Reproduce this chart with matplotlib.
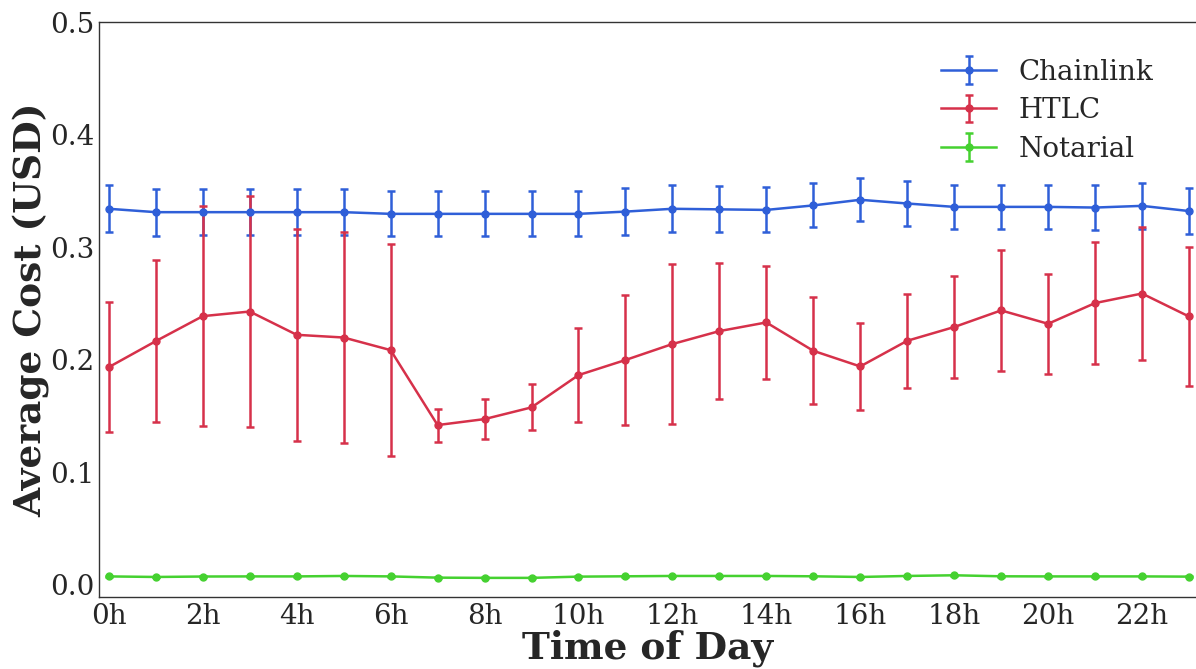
import numpy as np
import matplotlib
matplotlib.use("Agg")
from matplotlib import pyplot as plt

# hours of the day
hours = np.arange(24)
hour_labels = [f"{h}h" for h in range(0, 24, 2)]

# average cost (USD) and error (std) per hour
chainlink_mean = [0.334, 0.331, 0.331, 0.331, 0.331, 0.331, 0.3295, 0.3295,
                  0.3295, 0.3295, 0.3295, 0.3315, 0.334, 0.3335, 0.333, 0.337,
                  0.342, 0.3387, 0.3357, 0.3357, 0.3357, 0.3351, 0.3366, 0.332]
chainlink_err = [0.021, 0.021, 0.0205, 0.0205, 0.0205, 0.0205, 0.020, 0.020,
                 0.020, 0.020, 0.020, 0.0207, 0.021, 0.0205, 0.020, 0.0195,
                 0.019, 0.020, 0.0197, 0.0197, 0.0197, 0.020, 0.0205, 0.0207]

htlc_mean = [0.1933, 0.2164, 0.2386, 0.2427, 0.222, 0.2196, 0.2084, 0.1418,
             0.1471, 0.1575, 0.1862, 0.1996, 0.2138, 0.2253, 0.233, 0.2078,
             0.1939, 0.2167, 0.2289, 0.2437, 0.2318, 0.2502, 0.2587, 0.2383]
htlc_err = [0.0575, 0.072, 0.098, 0.103, 0.094, 0.094, 0.0945, 0.0147,
            0.018, 0.0205, 0.0417, 0.058, 0.071, 0.0605, 0.05, 0.0474,
            0.039, 0.042, 0.0457, 0.054, 0.0445, 0.054, 0.0588, 0.0617]

notarial_mean = [0.0073, 0.0068, 0.0072, 0.0073, 0.0073, 0.0077, 0.0073, 0.0062,
                 0.006, 0.006, 0.0071, 0.0074, 0.0077, 0.0077, 0.0077, 0.0074,
                 0.0068, 0.0077, 0.0083, 0.0074, 0.0073, 0.0073, 0.0073, 0.0071]
notarial_err = [0.0004] * 24

plt.rcParams['font.family'] = ['DejaVu Serif']

fig = plt.figure(figsize=(11.96, 6.69), dpi=100)
ax = fig.add_axes([99 / 1196, 1 - 597 / 669, 1 - 99 / 1196, (597 - 22) / 669])

series = [
    ("Chainlink", chainlink_mean, chainlink_err, "#2f5fd8"),
    ("HTLC", htlc_mean, htlc_err, "#d6314a"),
    ("Notarial", notarial_mean, notarial_err, "#45d130"),
]
for name, m, e, c in series:
    ax.errorbar(hours, m, yerr=e, fmt='-o', color=c, ecolor=c, markersize=5,
                linewidth=1.8, elinewidth=1.8, capsize=3, capthick=1.8, label=name)

ax.set_xlim(-0.21, 23.15)
ax.set_ylim(-0.011, 0.5)
ax.set_xticks(range(0, 24, 2))
ax.set_xticklabels(hour_labels)
ax.set_yticks([0.0, 0.1, 0.2, 0.3, 0.4, 0.5])
ax.tick_params(length=0, labelsize=20, colors='#262626')
ax.tick_params(axis='x', pad=4)
ax.tick_params(axis='y', pad=3)

for s in ['left', 'bottom', 'top']:
    ax.spines[s].set_color('#333333')
    ax.spines[s].set_linewidth(1.0)
ax.spines['right'].set_visible(False)

ax.set_xlabel('Time of Day', fontsize=27, fontweight='bold', color='#262626', labelpad=0)
ax.set_ylabel('Average Cost (USD)', fontsize=27, fontweight='bold', color='#262626', labelpad=0)

ax.legend(loc='upper right', bbox_to_anchor=(0.984, 0.98), frameon=False, fontsize=20,
          labelcolor='#262626', labelspacing=0.42)

fig.savefig('out.png', dpi=100)
